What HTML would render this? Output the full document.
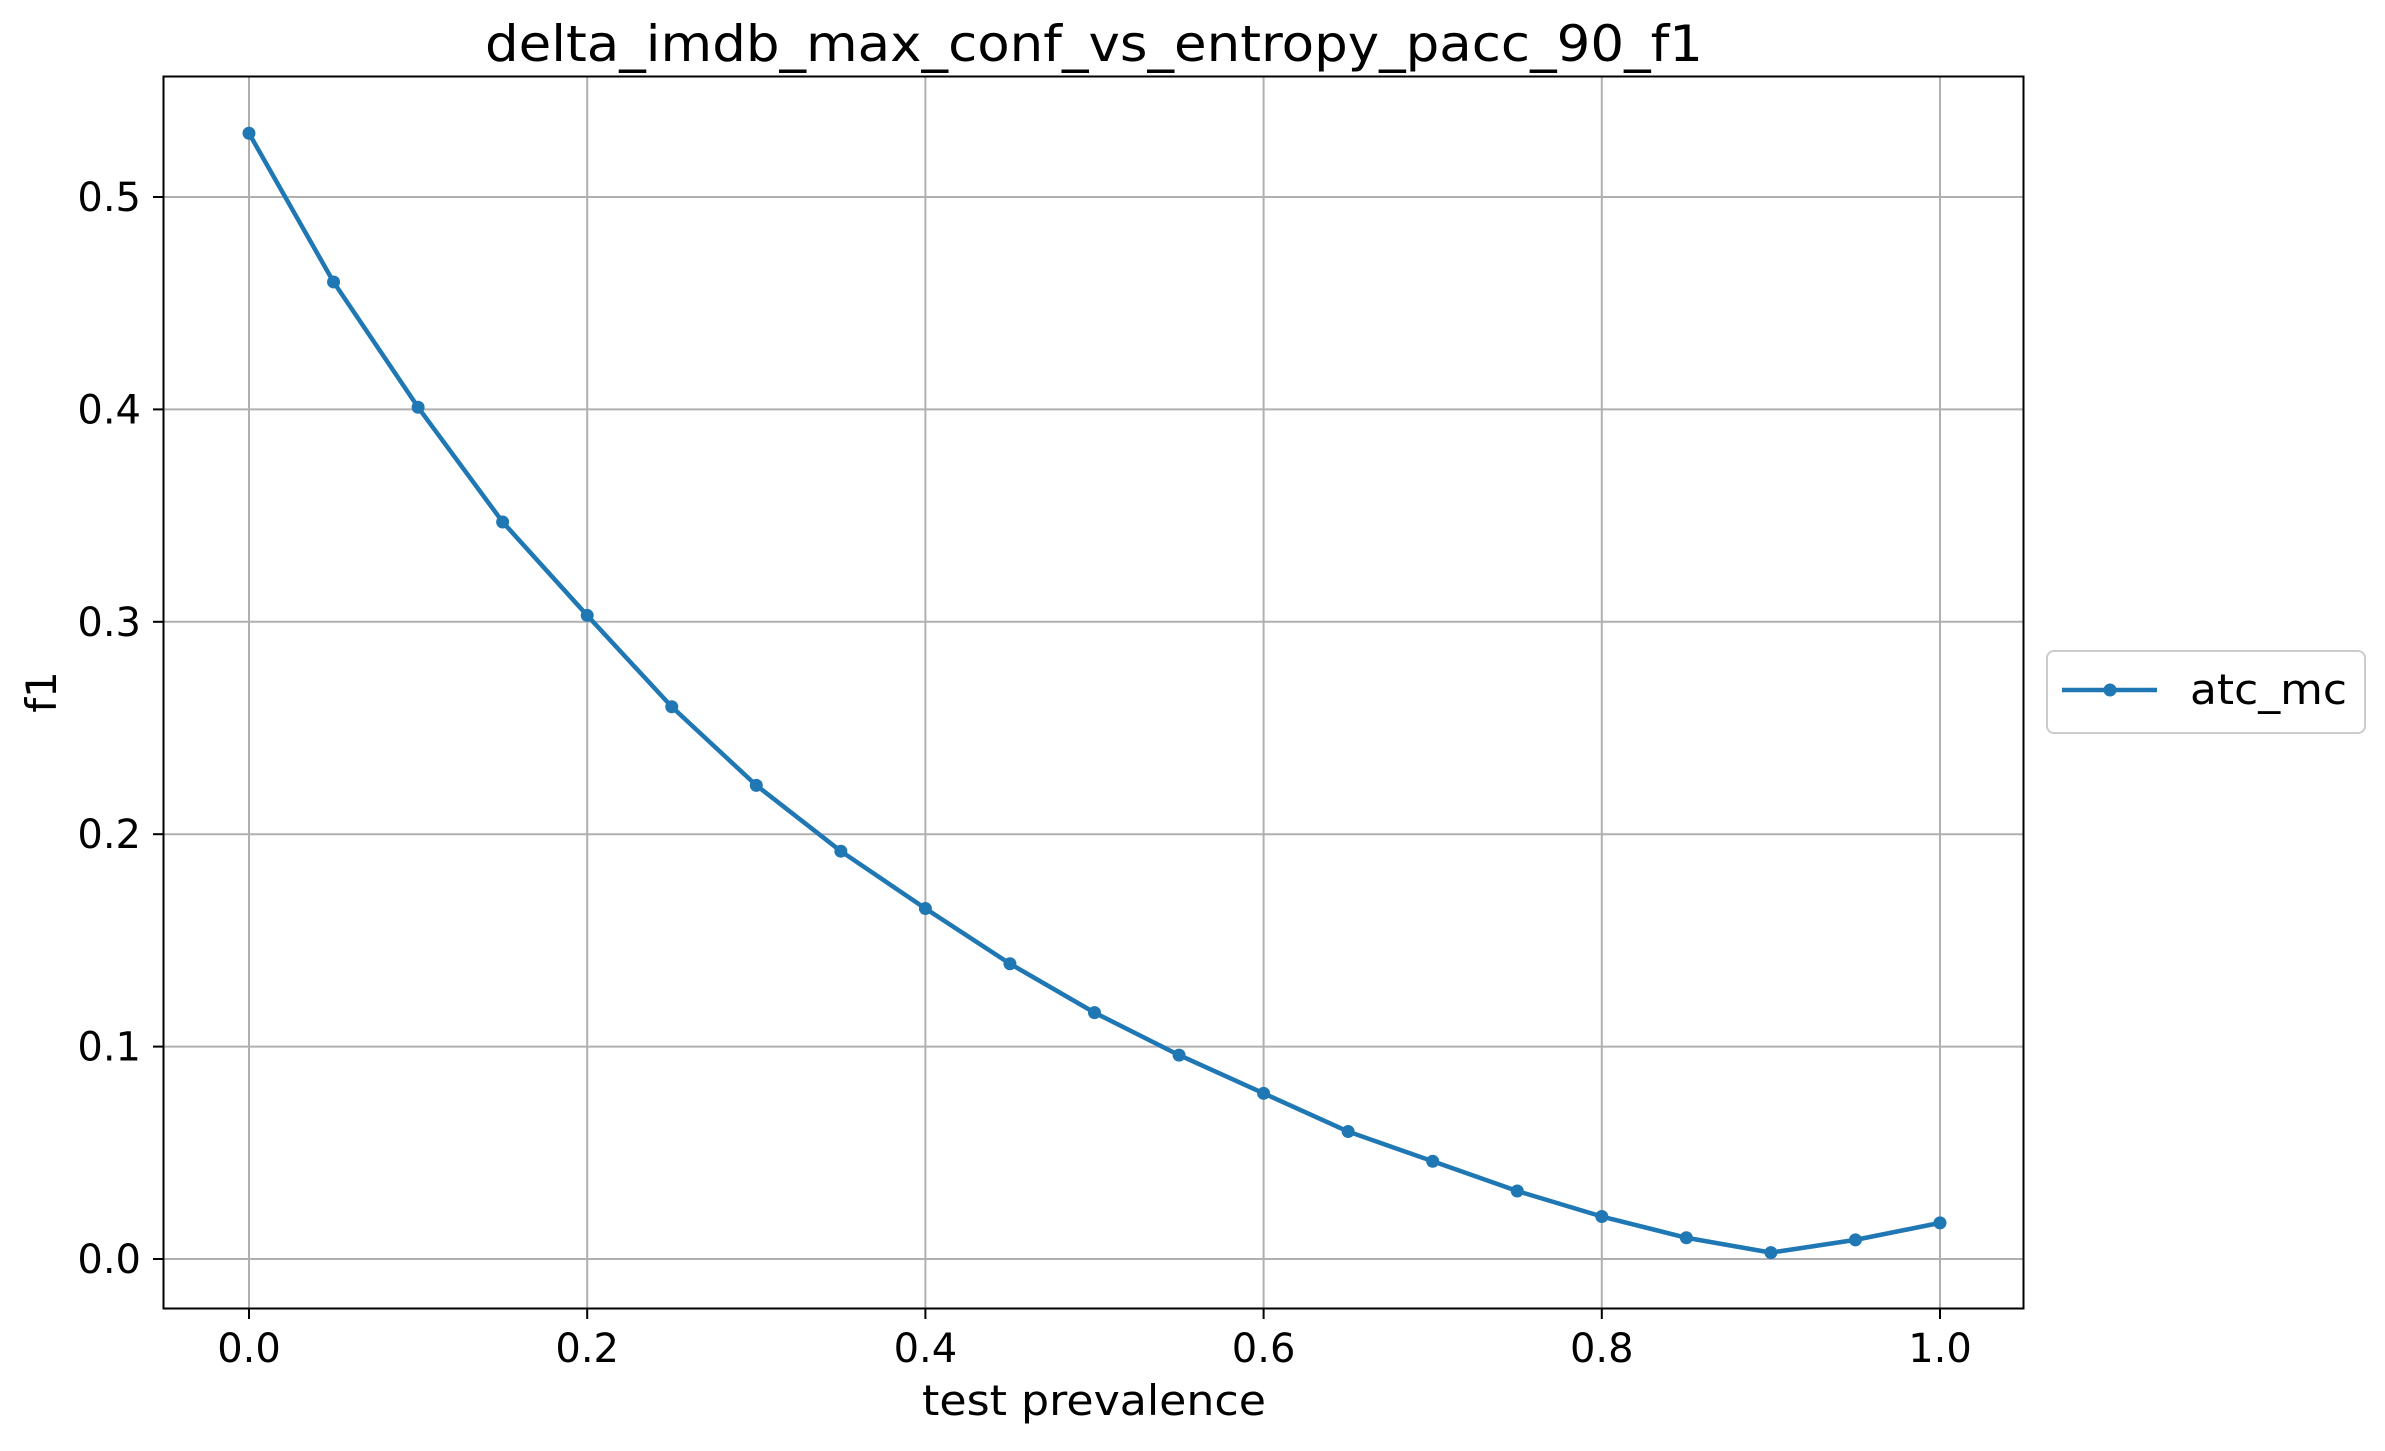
<!DOCTYPE html>
<html><head><meta charset="utf-8"><style>
body{margin:0;background:#fff}
svg text{font-family:"DejaVu Sans","Liberation Sans",sans-serif;fill:#000}
</style></head><body>
<svg id="chart" width="2385" height="1446" viewBox="0 0 2385 1446" xmlns="http://www.w3.org/2000/svg">
<text x="1094" y="61" font-size="50" text-anchor="middle" textLength="1218" lengthAdjust="spacingAndGlyphs">delta_imdb_max_conf_vs_entropy_pacc_90_f1</text>
<g id="grid"></g>
<g id="ticks"></g>
<g id="series"></g>
<rect x="163.5" y="76.5" width="1860" height="1232" fill="none" stroke="#000" stroke-width="2"/>
<text x="1094" y="1415" font-size="42" text-anchor="middle" textLength="344" lengthAdjust="spacingAndGlyphs">test prevalence</text>
<text transform="translate(56,692) rotate(-90)" font-size="42" text-anchor="middle">f1</text>
<g>
<rect x="2047" y="651" width="318" height="82" rx="7" fill="#fff" stroke="#ccc" stroke-width="2"/>
<line x1="2062" y1="690" x2="2157" y2="690" stroke="#1f77b4" stroke-width="4.5"/>
<circle cx="2110" cy="690" r="6.5" fill="#1f77b4"/>
<text x="2190" y="704" font-size="42" textLength="157" lengthAdjust="spacingAndGlyphs">atc_mc</text>
</g>
</svg>
<script>
const xs=[0,0.05,0.1,0.15,0.2,0.25,0.3,0.35,0.4,0.45,0.5,0.55,0.6,0.65,0.7,0.75,0.8,0.85,0.9,0.95,1.0];
const f1Values=[0.530,0.460,0.401,0.347,0.303,0.260,0.223,0.192,0.165,0.139,0.116,0.096,0.078,0.060,0.046,0.032,0.020,0.010,0.003,0.009,0.017];
const xTicks=[0,0.2,0.4,0.6,0.8,1.0];
const xTickLabels=["0.0","0.2","0.4","0.6","0.8","1.0"];
const yTicks=[0,0.1,0.2,0.3,0.4,0.5];
const yTickLabels=["0.0","0.1","0.2","0.3","0.4","0.5"];
const X=v=>249+v*(1940-249);
const Y=v=>1259-v*(1259-197)/0.5;
const NS="http://www.w3.org/2000/svg";
function mk(t,a,p){const e=document.createElementNS(NS,t);for(const k in a)e.setAttribute(k,a[k]);p.appendChild(e);return e;}
const grid=document.getElementById('grid'),ticks=document.getElementById('ticks'),ser=document.getElementById('series');
xTicks.forEach((v,i)=>{
 const g=mk('line',{x1:X(v),x2:X(v),y1:77,y2:1308,stroke:'#b0b0b0','stroke-width':2},grid);
 
 
 mk('line',{x1:X(v),x2:X(v),y1:1309,y2:1319,stroke:'#000','stroke-width':2},ticks);
 const t=mk('text',{x:X(v),y:1362,'font-size':40,'text-anchor':'middle'},ticks);t.textContent=xTickLabels[i];
 
 
});
yTicks.forEach((v,i)=>{
 const g=mk('line',{x1:164,x2:2023,y1:Y(v),y2:Y(v),stroke:'#b0b0b0','stroke-width':2},grid);
 
 
 mk('line',{x1:153,x2:163,y1:Y(v),y2:Y(v),stroke:'#000','stroke-width':2},ticks);
 const t=mk('text',{x:141,y:Y(v)+14,'font-size':40,'text-anchor':'end'},ticks);t.textContent=yTickLabels[i];
 
 
});
const pl=mk('polyline',{points:xs.map((x,i)=>X(x)+','+Y(f1Values[i])).join(' '),fill:'none',stroke:'#1f77b4','stroke-width':4.5,'stroke-linejoin':'round'},ser);


xs.forEach((x,i)=>{const c=mk('circle',{cx:X(x),cy:Y(f1Values[i]),r:6.5,fill:'#1f77b4'},ser);
 
 
});
</script>
</body></html>
